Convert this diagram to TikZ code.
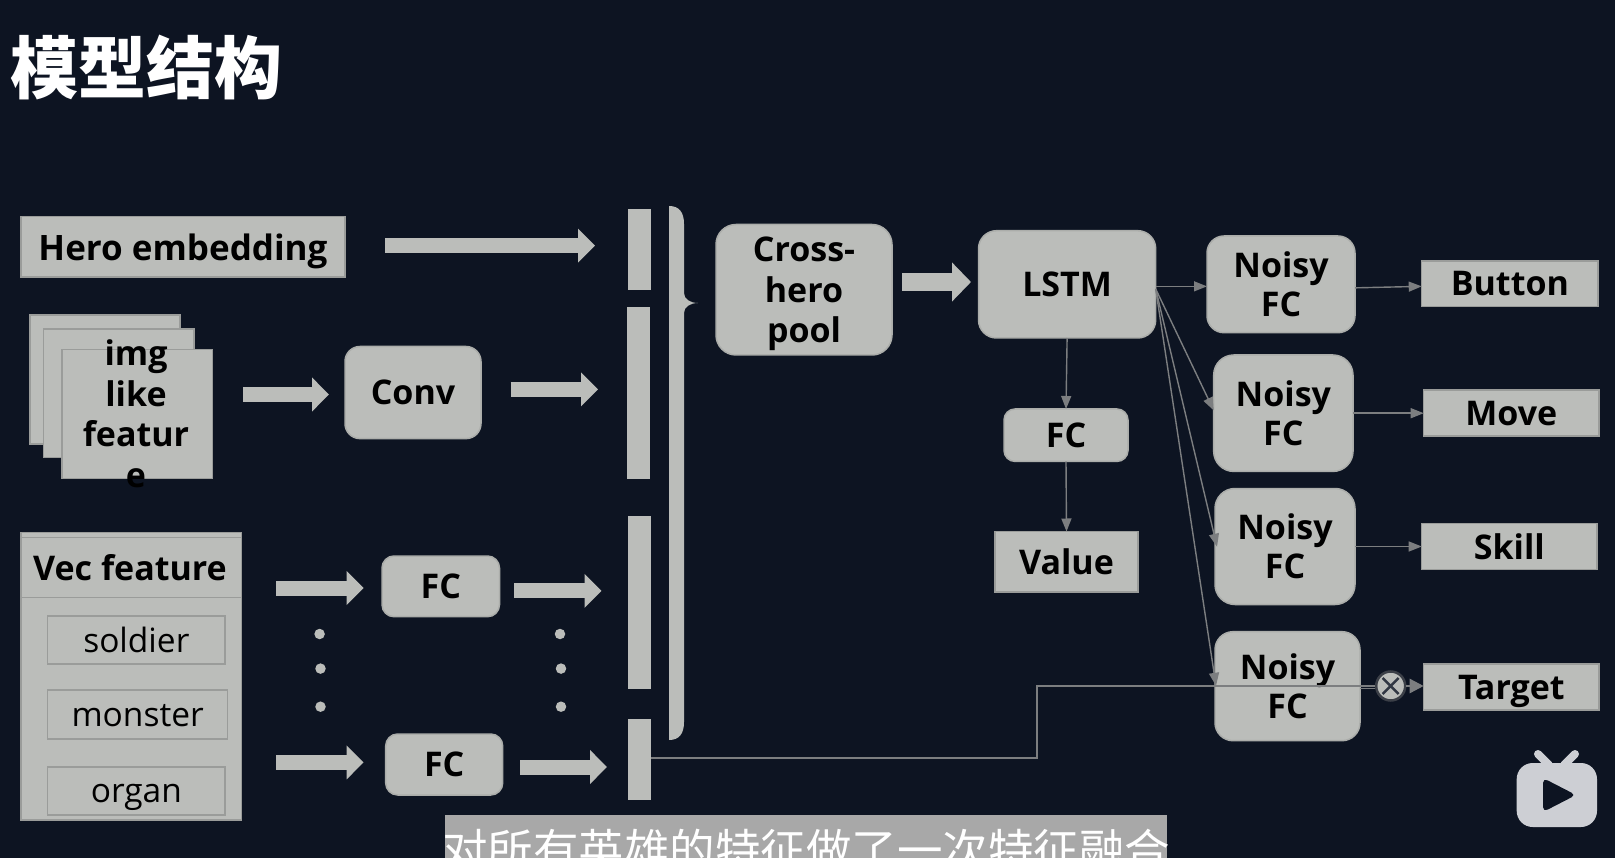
\documentclass[tikz,border=0pt]{standalone}
\usepackage{fontspec}
\setmainfont{Open Sans}
\newfontfamily\cjk{Noto Sans CJK SC}
\usetikzlibrary{arrows.meta,calc,positioning,shapes.misc}
\definecolor{bgc}{HTML}{0D1422}
\definecolor{boxc}{HTML}{BBBDBA}
\definecolor{edgec}{HTML}{9A9C9A}
\definecolor{redgec}{HTML}{ABADAA}
\definecolor{linec}{HTML}{7C7E80}
\definecolor{subc}{HTML}{A8A8A8}
\definecolor{logoc}{HTML}{CDCFD4}
\tikzset{
  plain/.style={fill=boxc,draw=edgec,line width=1.5pt,inner sep=0pt,outer sep=0pt,text=black,align=center,text depth=0pt,font=\fontsize{34}{39}\selectfont\bfseries},
  rbox/.style={plain,draw=redgec,rounded corners=#1},
  rbox/.default=15pt,
  subbox/.style={plain,draw=edgec,fill=boxc,text height=24pt,font=\fontsize{33.5}{39}\selectfont},
  bar/.style={fill=boxc,draw=none,inner sep=0pt,outer sep=0pt},
  fat/.style={draw=boxc,line width=15pt,-{Triangle[length=17pt,width=33pt]}},
  thin/.style={draw=linec,line width=1.4pt,-{Triangle[length=13pt,width=10pt]}},
  wire/.style={draw=linec,line width=1.4pt},
  dotm/.style={circle,fill=boxc,inner sep=0pt,minimum size=10.5pt},
}
\newcommand\bx[7]{\node[#2,minimum width={(#5)-(#3)},minimum height={(#6)-(#4)}] (#1) at ({(#3+#5)/2},{(#4+#6)/2}) {#7};}
\begin{document}
\begin{tikzpicture}[x=1pt,y=-1pt]
\useasboundingbox (0,0) rectangle (1615,858);
\clip (0,0) rectangle (1615,858);
\fill[bgc] (0,0) rectangle (1615,858);
% title
\node[text=white,inner sep=0pt,font=\cjk\fontsize{68}{68}\selectfont\bfseries] (title) at (146,68) {模型结构};
% left boxes
\bx{hero}{plain,font=\fontsize{35}{39}\selectfont\bfseries}{21}{216.5}{345}{277}{Hero embedding}
\bx{imgA}{plain}{30}{315}{180}{444}{}
\bx{imgB}{plain}{43.6}{329}{194}{457.6}{}
\bx{imgC}{plain}{62}{349.5}{212.6}{478.4}{}
\node[align=center,inner sep=0pt,text=black,font=\fontsize{34}{40.5}\selectfont\bfseries] (imgT) at (136,413.5) {img\\like\\featur\\e};
\bx{conv}{rbox=15pt}{345}{346.5}{481}{438.6}{Conv}
\bx{vec}{plain}{21}{532.4}{241.5}{820}{}
\node[inner sep=0pt,text=black,text depth=0pt,font=\fontsize{34}{39}\selectfont\bfseries] (vecT) at (130,567) {Vec feature};
\coordinate (vecHL) at (21,597.7); \coordinate (vecHR) at (241.5,597.7);
\coordinate (vecTL) at (21,537); \coordinate (vecTR) at (241.5,537);
\draw[draw=edgec,line width=1.5pt] (vecHL) -- (vecHR);
\draw[draw=edgec,line width=1pt] (vecTL) -- (vecTR);
\bx{soldier}{subbox}{47.7}{616}{225}{664}{soldier}
\bx{monster}{subbox}{47.7}{690}{227.7}{739}{monster}
\bx{organ}{subbox}{47.7}{766.8}{225}{814.8}{organ}
\bx{fcA}{rbox=12pt}{382}{556}{499.5}{616.7}{FC}
\bx{fcB}{rbox=12pt}{385.7}{734}{502.7}{795}{FC}
% bars
\bx{barA}{bar}{628}{209.4}{651}{289.8}{}
\bx{barB}{bar}{627}{306.7}{650}{479.2}{}
\bx{barC}{bar}{628}{516.4}{651}{689.4}{}
\bx{barD}{bar}{628}{718.8}{651}{800}{}
% brace
\fill[boxc] (669,206) .. controls (679,206) and (684,212) .. (684,224) -- (684,293) .. controls (684,299) and (690,303) .. (698,303) .. controls (690,303) and (684,307) .. (684,313) -- (684,722) .. controls (684,734) and (679,740) .. (669,740) -- cycle;
% middle
\bx{cross}{rbox=20pt,font=\fontsize{34}{40.5}\selectfont\bfseries}{716}{224.5}{892}{355}{Cross-\\hero\\pool}
\bx{lstm}{rbox=18pt}{978.5}{230.7}{1155.7}{338}{LSTM}
\bx{fcM}{rbox=11pt}{1004}{409}{1128}{461.4}{FC}
\bx{value}{plain}{995}{531.5}{1138}{592}{Value}
% noisy
\bx{nA}{rbox=17pt}{1207}{236}{1355}{332.7}{Noisy\\FC}
\bx{nB}{rbox=20pt}{1213.7}{355}{1353}{471.4}{Noisy\\FC}
\bx{nC}{rbox=20pt}{1215}{488.5}{1355}{604.5}{Noisy\\FC}
\bx{nD}{rbox=18pt}{1215}{631.7}{1360}{740.7}{Noisy\\FC}
% outputs
\bx{button}{plain}{1421.7}{261}{1598}{306.7}{Button}
\bx{move}{plain}{1423.7}{390}{1599}{436}{Move}
\bx{skill}{plain}{1421.7}{523.5}{1597}{569.5}{Skill}
\bx{target}{plain}{1423.7}{664}{1599}{710}{Target}
% fat arrows
\coordinate (f1s) at (385,245.7); \coordinate (f1e) at (595,245.7);
\coordinate (f2s) at (243,394.5); \coordinate (f2e) at (329,394.5);
\coordinate (f3s) at (510.5,389.3); \coordinate (f3e) at (598,389.3);
\coordinate (f4s) at (276,588); \coordinate (f4e) at (363.6,588);
\coordinate (f5s) at (514,590.8); \coordinate (f5e) at (601.5,590.8);
\coordinate (f6s) at (276,762.4); \coordinate (f6e) at (363.6,762.4);
\coordinate (f7s) at (520,767); \coordinate (f7e) at (607,767);
\foreach \k in {1,...,7} {\draw[fat] (f\k s) -- (f\k e);}
\coordinate (f8s) at (902,282); \coordinate (f8e) at (971,282);
\draw[draw=boxc,line width=18pt,-{Triangle[length=19pt,width=38pt]}] (f8s) -- (f8e);
% dots
\foreach \n/\px/\py in {dA/319.6/634,dB/320.5/668.6,dC/320.5/706.7,dD/560/634,dE/561/668.6,dF/561/706.7}
  {\node[dotm] (\n) at (\px,\py) {};}
% thin arrows
\draw[thin] (lstm.south) -- (fcM.north);
\draw[thin] (fcM.south) -- (value.north);
\draw[thin] ([yshift=-2pt]lstm.east) -- ([yshift=-2pt]nA.west);
\coordinate (fan) at (1155.7,289);
\coordinate (tB) at (1213.7,410.4); \coordinate (tC) at (1217,546.7); \coordinate (tD) at (1216,685.8);
\draw[thin] (fan) -- (tB);
\draw[thin] (fan) -- (tC);
\draw[thin] (fan) -- (tD);
\draw[thin] ([yshift=-3.5pt]nA.east) -- ([yshift=-2.5pt]button.west);
\draw[thin] (nB.east) -- (move.west |- nB.east);
\draw[thin] (nC.east) -- (skill.west |- nC.east);
% target line
\node[circle,draw=bgc!60!gray,line width=2.5pt,fill=boxc,minimum size=29pt,inner sep=0pt] (otimes) at (1390.7,686) {};
\draw[draw=bgc!85!white,line width=2.5pt] ($(otimes)+(-8,-8)$) -- ($(otimes)+(8,8)$) ($(otimes)+(-8,8)$) -- ($(otimes)+(8,-8)$);
\coordinate (bend1) at (1037,758); \coordinate (bend2) at (1037,686);
\draw[wire] (barD.east |- bend1) -- (bend1) -- (bend2) -- (otimes.west);
\draw[wire] ([yshift=-2.5pt]nD.east |- otimes.west) -- ([yshift=-2.5pt]otimes.west);
\draw[draw=linec,line width=2.5pt,-{Triangle[length=14pt,width=14pt]}] (otimes.east) -- (target.west |- otimes.east);
% logo
\fill[logoc,rounded corners=16pt] (1516.7,763) rectangle (1597,827);
\draw[logoc,line width=8pt,line cap=round] (1538,754) -- (1549,765);
\draw[logoc,line width=8pt,line cap=round] (1575,754) -- (1564,765);
\fill[bgc,rounded corners=5pt] (1543,778) -- (1576,795) -- (1543,812) -- cycle;
% subtitle
\bx{subt}{bar,fill=subc}{444.5}{815}{1167}{858}{}
\node[anchor=north,text=white,inner sep=0pt,font=\cjk\fontsize{45.5}{45.5}\selectfont] (subtT) at (806,829) {对所有英雄的特征做了一次特征融合};
\end{tikzpicture}
\end{document}
